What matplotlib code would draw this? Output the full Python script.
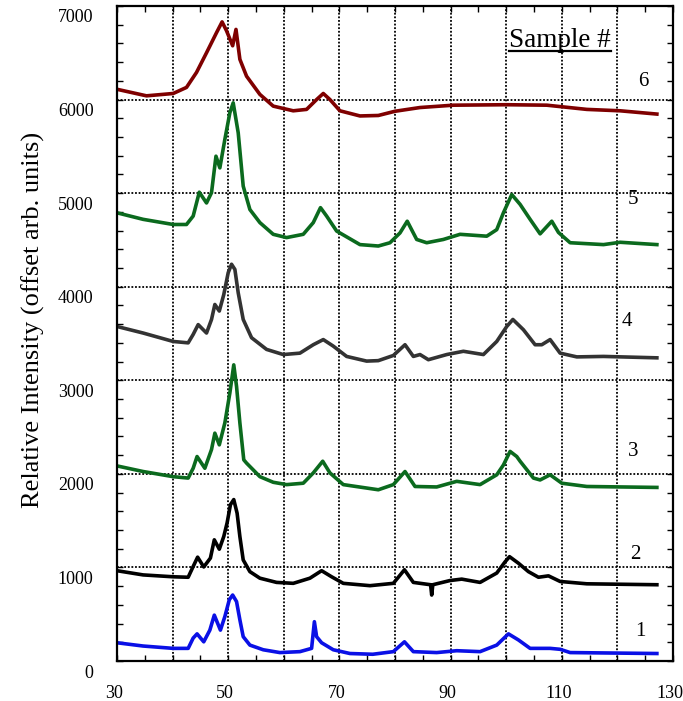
import matplotlib
matplotlib.use("Agg")
import matplotlib.pyplot as plt
import matplotlib.transforms as mtransforms
from matplotlib.ticker import MultipleLocator, FuncFormatter

plt.rcParams['font.family'] = 'Liberation Serif'

# Diffraction scans, offset per sample (2-theta vs relative intensity)
s1_x = [30.0, 34.7, 40.1, 42.8, 43.7, 44.4, 45.6, 46.7, 47.5, 48.6, 49.4, 50.2, 50.8, 51.5, 52.1,
        52.7, 53.9, 56.3, 59.3, 62.9, 65.0, 65.5, 65.9, 66.8, 68.9, 71.9, 76.0, 79.7, 81.7, 83.3,
        87.5, 91.1, 95.3, 98.3, 100.4, 102.2, 104.3, 107.9, 109.7, 111.5, 127.1]
s1_y = [195, 160, 135, 135, 245, 290, 205, 330, 490, 330, 475, 655, 705, 635, 440,
        260, 170, 120, 90, 100, 135, 420, 260, 195, 120, 80, 72, 100, 205, 100,
        90, 110, 100, 170, 290, 225, 135, 135, 125, 90, 80]

s2_x = [30.0, 34.7, 40.1, 42.8, 43.7, 44.5, 45.6, 46.8, 47.5, 48.4, 49.2, 49.8, 50.4, 51.0, 51.6,
        52.1, 52.7, 53.9, 55.7, 58.7, 61.7, 64.7, 66.8, 68.6, 70.7, 75.5, 79.7, 81.7, 83.3, 86.4,
        86.6, 86.8, 89.9, 92.0, 95.3, 98.3, 99.8, 100.6, 102.2, 104.0, 105.8, 107.6, 109.7, 114.5, 127.1]
s2_y = [965, 920, 900, 895, 1010, 1110, 1005, 1100, 1295, 1195, 1330, 1475, 1670, 1725, 1580,
        1330, 1080, 955, 885, 840, 830, 885, 965, 900, 830, 805, 830, 975, 840, 815,
        705, 815, 860, 875, 840, 940, 1060, 1115, 1045, 955, 895, 910, 850, 825, 815]

s3_x = [30.0, 34.7, 40.1, 42.8, 43.7, 44.4, 45.8, 47.0, 47.6, 48.4, 49.4, 50.3, 51.0, 51.5, 52.1,
        52.8, 53.3, 55.7, 58.1, 60.5, 63.5, 65.3, 67.0, 68.3, 70.7, 77.0, 79.7, 81.8, 83.6, 87.5,
        91.1, 95.3, 98.3, 99.5, 100.7, 101.9, 102.5, 104.9, 106.1, 107.9, 110.0, 114.5, 127.1]
s3_y = [2085, 2025, 1970, 1955, 2060, 2185, 2060, 2260, 2435, 2310, 2545, 2865, 3165, 2935, 2545,
        2150, 2115, 1970, 1910, 1885, 1900, 2010, 2135, 2010, 1885, 1830, 1885, 2025, 1865, 1860,
        1920, 1885, 1990, 2095, 2240, 2185, 2135, 1955, 1935, 1990, 1900, 1865, 1855]

s4_x = [30.0, 34.7, 40.1, 42.8, 43.7, 44.6, 46.1, 47.0, 47.6, 48.4, 49.2, 50.0, 50.6, 51.2, 51.8,
        52.7, 54.2, 56.9, 59.9, 62.9, 65.3, 67.1, 68.9, 71.3, 74.9, 77.0, 79.7, 81.8, 83.3, 84.5,
        86.0, 89.3, 92.3, 95.9, 98.3, 100.1, 101.2, 103.1, 105.2, 106.4, 107.9, 109.7, 112.7, 117.5, 127.1]
s4_y = [3575, 3505, 3415, 3400, 3490, 3595, 3505, 3650, 3810, 3740, 3915, 4150, 4240, 4185, 3935,
        3650, 3455, 3330, 3275, 3290, 3380, 3435, 3365, 3255, 3205, 3210, 3265, 3380, 3255, 3275,
        3220, 3275, 3310, 3275, 3415, 3575, 3650, 3540, 3380, 3380, 3435, 3290, 3250, 3255, 3240]

s5_x = [30.0, 34.7, 40.1, 42.5, 43.7, 44.8, 46.1, 47.0, 47.8, 48.5, 49.4, 50.3, 50.9, 51.8, 52.7,
        53.9, 55.7, 58.1, 60.5, 63.5, 65.3, 66.6, 67.7, 69.5, 73.7, 77.0, 79.1, 80.9, 82.2, 83.9,
        85.7, 88.7, 91.7, 96.5, 98.3, 99.5, 101.0, 102.5, 104.3, 106.1, 108.2, 109.4, 111.5, 117.5,
        120.5, 127.1]
s5_y = [4790, 4720, 4665, 4665, 4755, 5010, 4895, 5005, 5395, 5270, 5575, 5860, 5965, 5645, 5075,
        4825, 4685, 4560, 4525, 4560, 4685, 4845, 4755, 4595, 4450, 4435, 4470, 4575, 4700, 4505,
        4470, 4505, 4560, 4540, 4610, 4790, 4985, 4880, 4720, 4565, 4700, 4580, 4470, 4450,
        4475, 4450]

s6_x = [30.0, 35.3, 40.1, 42.5, 44.3, 46.1, 47.9, 48.9, 49.7, 50.8, 51.4, 52.1, 53.3, 55.7, 58.1,
        61.7, 64.1, 65.9, 67.1, 68.3, 70.1, 73.7, 77.0, 80.0, 84.5, 90.5, 100.1, 107.3, 114.5,
        120.5, 127.1]
s6_y = [6110, 6040, 6065, 6130, 6290, 6500, 6715, 6830, 6735, 6575, 6750, 6430, 6250, 6055, 5930,
        5880, 5895, 6000, 6065, 6000, 5880, 5825, 5830, 5875, 5915, 5940, 5945, 5940, 5895,
        5880, 5845]

sample_names = ['1', '2', '3', '4', '5', '6']
name_x = [124.1, 123.3, 122.8, 121.7, 122.8, 124.6]
name_y = [310, 1134, 2236, 3627, 4933, 6195]
colors = ['#0a10e6', '#000000', '#0b6a1e', '#333333', '#0b6a1e', '#7f0000']

fig = plt.figure(figsize=(6.83, 7.01), dpi=100)
ax = fig.add_axes([117 / 683, 40 / 701, 556 / 683, 655 / 701])

series = [(s1_x, s1_y), (s2_x, s2_y), (s3_x, s3_y), (s4_x, s4_y), (s5_x, s5_y), (s6_x, s6_y)]
for (xs, ys), c in zip(series, colors):
    ax.plot(xs, ys, color=c, lw=2.6, solid_joinstyle='round')

for name, tx, ty in zip(sample_names, name_x, name_y):
    ax.text(tx, ty, name, fontsize=15, ha='center', va='center')

ax.set_xlim(30, 130)
ax.set_ylim(0, 7000)

ax.xaxis.set_major_locator(MultipleLocator(10))
ax.xaxis.set_minor_locator(MultipleLocator(5))
ax.xaxis.set_major_formatter(FuncFormatter(lambda v, p: '%d' % v if int(round(v)) % 20 == 10 else ''))
ax.yaxis.set_major_locator(MultipleLocator(1000))
ax.yaxis.set_minor_locator(MultipleLocator(200))

ax.tick_params(which='both', direction='in', top=True, right=True, length=4, width=1)
ax.tick_params(axis='x', labelsize=13, pad=17)
ax.tick_params(axis='y', labelsize=13, pad=17)
ax.grid(True, which='major', color='black', linestyle=(0, (1, 1)), linewidth=1.3)
for sp in ax.spines.values():
    sp.set_linewidth(1.6)

ax.set_ylabel('Relative Intensity (offset arb. units)', fontsize=19)
ax.yaxis.set_label_coords(-0.13, 0.52)

# y labels sit a little below their grid lines
fig.canvas.draw()
down = mtransforms.ScaledTranslation(0, -0.10, fig.dpi_scale_trans)
for tick in ax.yaxis.get_major_ticks():
    tick.label1.set_transform(tick.label1.get_transform() + down)
zero_shift = mtransforms.ScaledTranslation(0.10, 0, fig.dpi_scale_trans)
ax.yaxis.get_major_ticks()[0].label1.set_transform(
    ax.yaxis.get_major_ticks()[0].label1.get_transform() + zero_shift)
left = mtransforms.ScaledTranslation(-0.03, 0, fig.dpi_scale_trans)
for tick in ax.xaxis.get_major_ticks():
    tick.label1.set_transform(tick.label1.get_transform() + left)

# underlined heading
title = ax.text(0.797, 0.947, 'Sample #', transform=ax.transAxes, fontsize=19.5,
                ha='center', va='center')
fig.canvas.draw()
bb = title.get_window_extent()
inv = fig.transFigure.inverted()
(x0, y0), (x1, _) = inv.transform([(bb.x0, bb.y0 + 2), (bb.x1, bb.y0)])
fig.add_artist(plt.Line2D([x0, x1], [y0, y0], color='black', lw=1.6))

fig.savefig('out.png', dpi=100)
